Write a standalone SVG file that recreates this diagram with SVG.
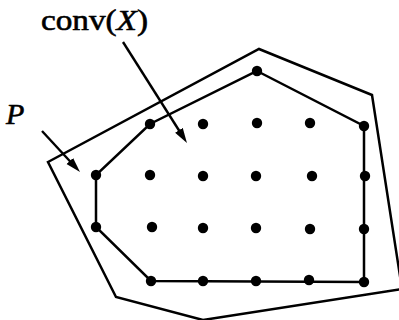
<svg xmlns="http://www.w3.org/2000/svg" width="399" height="320" viewBox="0 0 399 320">
<style>
.poly{fill:none;stroke:#000;stroke-width:2.5;stroke-linejoin:miter}
.arr{fill:none;stroke:#000;stroke-width:2.4}
.dot{fill:#000}
.lbl{font-family:"Liberation Serif","Times New Roman",serif;fill:#000;stroke:#000;stroke-width:0.6}
</style>
<defs>
<marker id="ah" markerUnits="userSpaceOnUse" markerWidth="18" markerHeight="10" refX="5" refY="4.5" orient="auto">
<path d="M0,0 L15,4.5 L0,9 z" fill="#000"/>
</marker>
</defs>
<rect width="399" height="320" fill="#fff"/>
<g id="P-polygon">
<polygon class="poly" points="48,162 259,49 372,95 402,289 203,320 116,297"/>
</g>
<g id="conv-polygon">
<polygon class="poly" points="257,71 364,126 364,282 151,281 96,227 96,175 150,124"/>
</g>
<g id="points">
<circle class="dot" cx="257" cy="71" r="5.2"/>
<circle class="dot" cx="150" cy="124" r="5.2"/>
<circle class="dot" cx="203" cy="124" r="5.2"/>
<circle class="dot" cx="257" cy="123" r="5.2"/>
<circle class="dot" cx="310" cy="123" r="5.2"/>
<circle class="dot" cx="364" cy="126" r="5.2"/>
<circle class="dot" cx="96" cy="175" r="5.2"/>
<circle class="dot" cx="150" cy="175" r="5.2"/>
<circle class="dot" cx="203" cy="176" r="5.2"/>
<circle class="dot" cx="256" cy="176" r="5.2"/>
<circle class="dot" cx="312" cy="176" r="5.2"/>
<circle class="dot" cx="365" cy="176" r="5.2"/>
<circle class="dot" cx="96" cy="227" r="5.2"/>
<circle class="dot" cx="152" cy="227" r="5.2"/>
<circle class="dot" cx="203" cy="228" r="5.2"/>
<circle class="dot" cx="256" cy="228" r="5.2"/>
<circle class="dot" cx="310" cy="229" r="5.2"/>
<circle class="dot" cx="364" cy="229" r="5.2"/>
<circle class="dot" cx="151" cy="281" r="5.2"/>
<circle class="dot" cx="203" cy="281" r="5.2"/>
<circle class="dot" cx="256" cy="281" r="5.2"/>
<circle class="dot" cx="309" cy="280" r="5.2"/>
<circle class="dot" cx="364" cy="282" r="5.2"/>
</g>
<g id="connectors">
<line class="arr" x1="123" y1="42" x2="181.6" y2="134.5" marker-end="url(#ah)"/>
<line class="arr" x1="42" y1="131" x2="73.2" y2="164.7" marker-end="url(#ah)"/>
</g>
<g id="label-conv">
<text class="lbl" x="41" y="30" font-size="30" textLength="107" lengthAdjust="spacingAndGlyphs">conv(<tspan font-style="italic">X</tspan>)</text>
</g>
<g id="label-P">
<text class="lbl" x="6" y="124" font-size="30" font-style="italic">P</text>
</g>
</svg>
